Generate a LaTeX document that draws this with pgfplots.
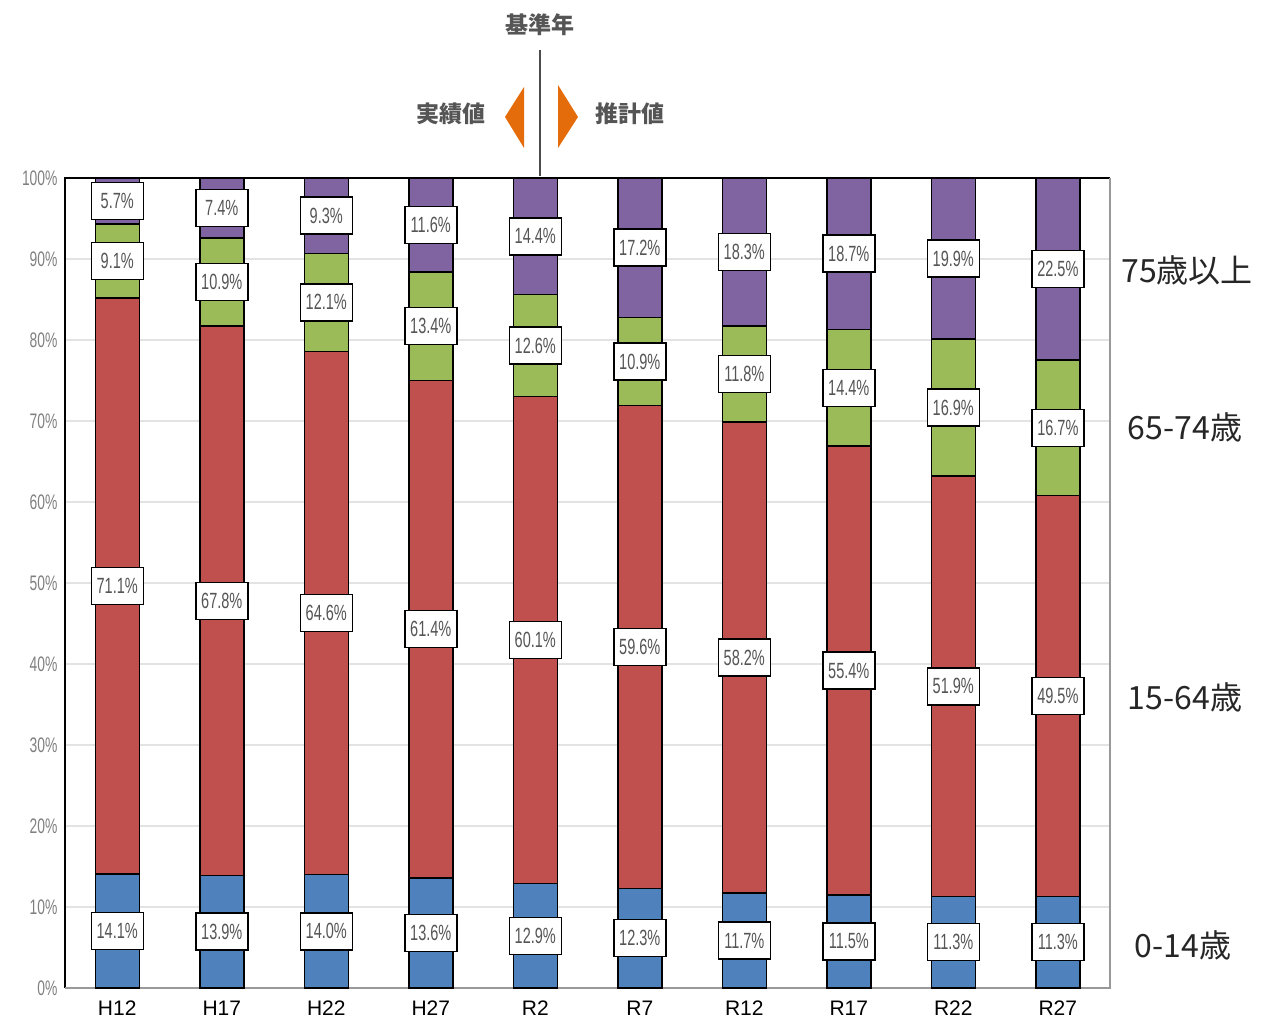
\documentclass[border=0pt]{standalone}
\usepackage{pgfplots}
\pgfplotsset{compat=1.18}
\usepackage{pgfplotstable}
\usepackage{fontspec}
\setmainfont{Liberation Sans}
\newfontfamily\jp{Noto Sans CJK JP}
\newfontfamily\narrow{Liberation Sans}[FakeStretch=0.66]
\definecolor{cA}{HTML}{4F81BD}
\definecolor{cB}{HTML}{C0504D}
\definecolor{cC}{HTML}{9BBB59}
\definecolor{cD}{HTML}{8064A2}
\definecolor{orng}{HTML}{E46C0A}
\definecolor{txtg}{HTML}{555555}

\pgfplotstableread{
x a b c d
0 14.1 71.1 9.1 5.7
1 13.9 67.8 10.9 7.4
2 14.0 64.6 12.1 9.3
3 13.6 61.4 13.4 11.6
4 12.9 60.1 12.6 14.4
5 12.3 59.6 10.9 17.2
6 11.7 58.2 11.8 18.3
7 11.5 55.4 14.4 18.7
8 11.3 51.9 16.9 19.9
9 11.3 49.5 16.7 22.5
}\data

\pgfplotsset{
  base/.style={
    at={(65pt,42pt)}, anchor=south west, scale only axis,
    width=1045pt, height=810pt,
    xmin=-0.5, xmax=9.5, ymin=0, ymax=100, clip=false,
  },
  lbl/.style={
    draw=none, mark=none, point meta=explicit,
    nodes near coords={\pgfmathprintnumber[fixed,fixed zerofill,precision=1,assume math mode=true]{\pgfplotspointmeta}\%},
    nodes near coords align={center},
    every node near coord/.append style={draw=black, fill=white, line width=1.5pt,
      minimum width=52pt, minimum height=37pt, inner sep=0pt, anchor=center,
      font=\narrow\fontsize{22}{22}\selectfont, text=txtg},
  },
}

\begin{document}
\begin{tikzpicture}
\path[use as bounding box] (0,0) rectangle (1284pt,1030pt);
\begin{axis}[base,
  ybar stacked, bar width=44pt,
  axis line style={draw=none}, major tick length=0pt,
  ytick={0,10,...,100},
  yticklabels={0\%,10\%,20\%,30\%,40\%,50\%,60\%,70\%,80\%,90\%,100\%},
  yticklabel style={font=\narrow\fontsize{21}{21}\selectfont, text=gray, xshift=-4pt},
  xtick={0,...,9},
  xticklabels={H12,H17,H22,H27,R2,R7,R12,R17,R22,R27},
  xticklabel style={font=\fontsize{21}{21}\selectfont, text=black, yshift=-9pt,
    text height=15pt, text depth=0pt},
  ymajorgrids, grid style={gray!22, line width=1.5pt},
]
\addplot[fill=cA, draw=black, line width=1.5pt] table[x=x, y=a] {\data};
\addplot[fill=cB, draw=black, line width=1.5pt] table[x=x, y=b] {\data};
\addplot[fill=cC, draw=black, line width=1.5pt] table[x=x, y=c] {\data};
\addplot[fill=cD, draw=black, line width=1.5pt] table[x=x, y=d] {\data};
\draw[gray!80, line width=2pt] (axis cs:9.5,100) -- (axis cs:9.5,0) -- (axis cs:-0.5,0);
\draw[black, line width=2pt] (axis cs:-0.5,0) -- (axis cs:-0.5,100) -- (axis cs:9.5,100);
\end{axis}
\begin{axis}[base, hide axis]
\addplot[lbl] table[x=x, y expr={\thisrow{a}/2}, meta=a] {\data};
\addplot[lbl] table[x=x, y expr={\thisrow{a}+\thisrow{b}/2}, meta=b] {\data};
\addplot[lbl] table[x=x, y expr={\thisrow{a}+\thisrow{b}+\thisrow{c}/2}, meta=c] {\data};
\addplot[lbl] table[x=x, y expr={\thisrow{a}+\thisrow{b}+\thisrow{c}+\thisrow{d}/2}, meta=d] {\data};
\end{axis}
% right-hand labels
\node[font=\jp\fontsize{32}{32}\selectfont, text=black!85] at (1187pt,760pt) {75歳以上};
\node[font=\jp\fontsize{32}{32}\selectfont, text=black!85] at (1185pt,603pt) {65-74歳};
\node[font=\jp\fontsize{32}{32}\selectfont, text=black!85] at (1185pt,333pt) {15-64歳};
\node[font=\jp\fontsize{32}{32}\selectfont, text=black!85] at (1183pt,85pt) {0-14歳};
% top annotation
\draw[gray!60!black, line width=2pt] (540pt,980pt) -- (540pt,854pt);
\node[font=\jp\bfseries\fontsize{23}{23}\selectfont, text=txtg] at (540pt,1005pt) {基準年};
\node[font=\jp\bfseries\fontsize{23}{23}\selectfont, text=txtg] at (451pt,916pt) {実績値};
\node[font=\jp\bfseries\fontsize{23}{23}\selectfont, text=txtg] at (630pt,916pt) {推計値};
\fill[orng] (505pt,913pt) -- (524pt,943pt) -- (524pt,882pt) -- cycle;
\fill[orng] (578pt,913pt) -- (558pt,945pt) -- (558pt,882pt) -- cycle;
\end{tikzpicture}
\end{document}
